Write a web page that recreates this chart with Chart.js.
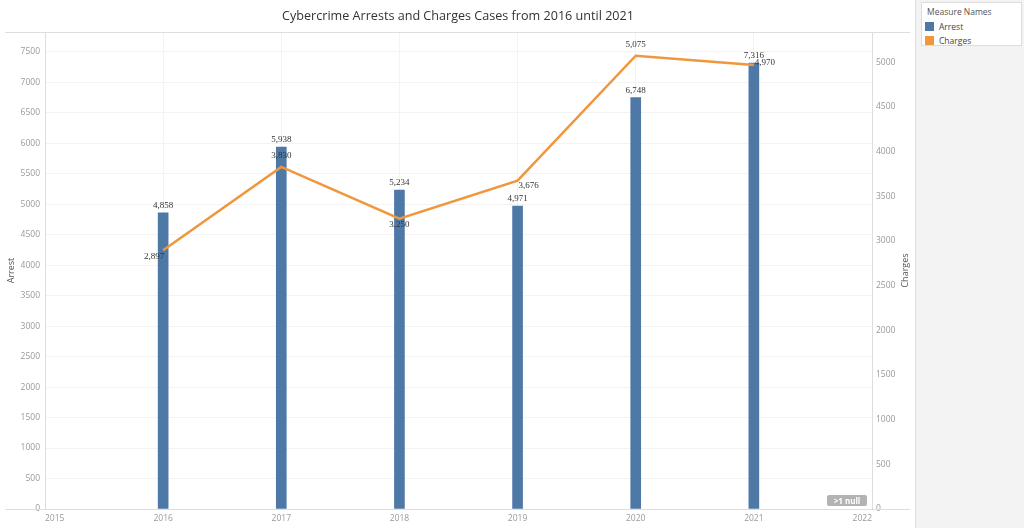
<!DOCTYPE html>
<html>
<head>
<meta charset="utf-8">
<script src="https://cdn.jsdelivr.net/npm/chart.js@4.4.0/dist/chart.umd.min.js"></script>
<style>
  html, body { margin: 0; padding: 0; background: #fff; }
  body { width: 1024px; height: 528px; position: relative; overflow: hidden; font-family: "Open Sans", sans-serif; }
  #wrap { position: absolute; left: 0; top: 0; width: 916px; height: 528px; }
  #side { position: absolute; left: 915px; top: 0; width: 109px; height: 528px; background: #f3f3f3; border-left: 1px solid #dedede; }
  #legend { position: absolute; left: 5px; top: 2px; width: 101px; height: 44px; background: #fff; border: 1px solid #dcdcdc; box-sizing: border-box; font-size: 8.5px; color: #444; }
  #legend .ttl { position: absolute; left: 5px; top: 3px; color: #555; }
  #legend .it { position: absolute; left: 3px; height: 10px; line-height: 10px; }
  #legend .sw { display: inline-block; width: 9px; height: 9px; vertical-align: top; margin-right: 5px; }
  .hline { position: absolute; height: 1px; background: #dedede; }
  #nul { position: absolute; left: 827px; top: 495px; width: 40px; height: 11px; line-height: 11px; background: #b3b3b3; color: #fff; font-size: 8px; font-weight: bold; text-align: center; border-radius: 2px; }
</style>
</head>
<body>
<div id="wrap"><canvas id="chart"></canvas></div>
<div class="hline" style="left:5px; top:32px; width:905px;"></div>
<div class="hline" style="left:5px; top:509px; width:905px;"></div>
<div id="side">
  <div id="legend">
    <div class="ttl">Measure Names</div>
  </div>
</div>
<div id="nul">&gt;1 null</div>
<script>
// dati
const anni = [2016, 2017, 2018, 2019, 2020, 2021]
const arresti = [4858, 5938, 5234, 4971, 6748, 7316]
const accuse = [2897, 3830, 3250, 3676, 5075, 4970]
const posEtichetteAccuse = ['bl', 'top', 'bottom', 'br', 'top', 'right']

const coloreArresti = '#4e79a7'
const coloreAccuse = '#f0963c'

//Legenda html
const legenda = document.querySelector('#legend')
;[['Arrest', coloreArresti], ['Charges', coloreAccuse]].forEach((v, i) => {
    const d = document.createElement('div')
    d.className = 'it'
    d.style.top = (19 + i * 14) + 'px'
    d.innerHTML = '<span class="sw" style="background:' + v[1] + '"></span>' + v[0]
    legenda.appendChild(d)
})

//Tacche ogni 500 fino al massimo della scala
const tacche500 = (s) => {
    s.ticks = []
    for (let v = 0; v <= s.max; v += 500) s.ticks.push({ value: v })
}

//Plugin per le etichette dei valori
const etichette = {
    id: 'etichette',
    afterDatasetsDraw(chart) {
        const ctx = chart.ctx
        ctx.save()
        ctx.font = '9px "Liberation Serif", serif'
        ctx.fillStyle = '#333'
        // barre
        chart.getDatasetMeta(1).data.forEach((el, i) => {
            ctx.textAlign = 'center'
            ctx.textBaseline = 'middle'
            ctx.fillText(arresti[i].toLocaleString('en-US'), el.x, el.y - 7)
        })
        // linea
        chart.getDatasetMeta(0).data.forEach((el, i) => {
            const testo = accuse[i].toLocaleString('en-US')
            const p = posEtichetteAccuse[i]
            ctx.textBaseline = 'middle'
            if (p == 'top') { ctx.textAlign = 'center'; ctx.fillText(testo, el.x, el.y - 11) }
            else if (p == 'bottom') { ctx.textAlign = 'center'; ctx.fillText(testo, el.x, el.y + 6) }
            else if (p == 'bl') { ctx.textAlign = 'right'; ctx.fillText(testo, el.x + 1, el.y + 6) }
            else if (p == 'br') { ctx.textAlign = 'left'; ctx.fillText(testo, el.x + 1, el.y + 5) }
            else { ctx.textAlign = 'left'; ctx.fillText(testo, el.x + 1, el.y - 2) }
        })
        // titolo asse destro
        const s = chart.scales.y1
        ctx.font = '9px "Open Sans", sans-serif'
        ctx.fillStyle = '#555'
        ctx.translate(905, (s.top + s.bottom) / 2)
        ctx.rotate(-Math.PI / 2)
        ctx.textAlign = 'center'
        ctx.fillText('Charges', 0, 0)
        ctx.restore()
    }
}

const tickFont = { family: '"Open Sans", sans-serif', size: 8.5 }

new Chart(document.querySelector('#chart'), {
    data: {
        datasets: [{
            type: 'line',
            label: 'Charges',
            data: anni.map((a, i) => ({ x: a, y: accuse[i] })),
            borderColor: coloreAccuse,
            borderWidth: 2.5,
            pointRadius: 0,
            yAxisID: 'y1',
            order: 0
        }, {
            type: 'bar',
            label: 'Arrest',
            data: anni.map((a, i) => ({ x: a, y: arresti[i] })),
            backgroundColor: coloreArresti,
            barThickness: 10,
            yAxisID: 'y',
            order: 1
        }]
    },
    options: {
        responsive: true,
        maintainAspectRatio: false,
        animation: false,
        plugins: {
            legend: { display: false },
            tooltip: { enabled: false },
            title: {
                display: true,
                text: 'Cybercrime Arrests and Charges Cases from 2016 until 2021',
                color: '#333',
                font: { family: '"Open Sans", sans-serif', size: 12.6, weight: 'normal' },
                padding: { top: 8.4, bottom: 8.5 }
            }
        },
        scales: {
            x: {
                type: 'linear',
                min: 2015,
                max: 2022,
                offset: false,
                afterFit: s => { s.height = 19 },
                grid: { color: '#f3f3f3', drawTicks: false, offset: false },
                border: { display: false },
                ticks: { stepSize: 1, align: 'inner', padding: 4, color: '#999', font: tickFont, callback: v => String(v) }
            },
            y: {
                position: 'left',
                min: 0,
                max: 7825,
                afterFit: s => { s.width = 45 },
                afterBuildTicks: tacche500,
                grid: { color: '#f3f3f3', drawTicks: false },
                border: { color: '#dedede' },
                ticks: { padding: 5, color: '#999', font: tickFont, callback: v => String(v) },
                title: { display: true, text: 'Arrest', color: '#555', font: { family: '"Open Sans", sans-serif', size: 9 }, padding: { top: 6, bottom: 0 } }
            },
            y1: {
                position: 'right',
                min: 0,
                max: 5340,
                afterFit: s => { s.width = 44 },
                afterBuildTicks: tacche500,
                grid: { display: false, drawTicks: false },
                border: { color: '#dedede' },
                ticks: { padding: 4, color: '#999', font: tickFont, callback: v => String(v) }
            }
        }
    },
    plugins: [etichette]
})
</script>
</body>
</html>
